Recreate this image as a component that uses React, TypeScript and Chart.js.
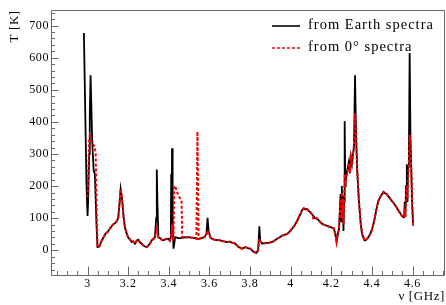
import React, { useEffect, useRef } from 'react';
import { Chart, registerables } from 'chart.js';

Chart.register(...registerables);

// Frequency grid [GHz]
const freqGHz = [
  2.982, 2.995, 3.0, 3.003, 3.008, 3.011, 3.015, 3.023, 3.03, 3.036, 3.04, 3.044, 3.049, 3.058, 3.066, 3.078,
  3.089, 3.1, 3.11, 3.125, 3.14, 3.151, 3.158, 3.163, 3.17, 3.178, 3.184, 3.193, 3.2, 3.209, 3.217, 3.225,
  3.234, 3.242, 3.25, 3.258, 3.267, 3.275, 3.283, 3.291, 3.3, 3.308, 3.316, 3.325, 3.332, 3.338, 3.341, 3.344,
  3.349, 3.357, 3.365, 3.373, 3.385, 3.398, 3.405, 3.41, 3.412, 3.414, 3.416, 3.419, 3.423, 3.427, 3.431, 3.447,
  3.463, 3.466, 3.475, 3.489, 3.505, 3.52, 3.536, 3.541, 3.547, 3.56, 3.575, 3.585, 3.591, 3.596, 3.605, 3.612,
  3.625, 3.64, 3.653, 3.67, 3.686, 3.7, 3.711, 3.727, 3.744, 3.76, 3.777, 3.79, 3.801, 3.818, 3.831, 3.84,
  3.846, 3.85, 3.859, 3.87, 3.884, 3.896, 3.909, 3.92, 3.933, 3.945, 3.958, 3.97, 3.983, 3.995, 4.007, 4.02,
  4.032, 4.048, 4.056, 4.065, 4.073, 4.081, 4.09, 4.098, 4.105, 4.111, 4.12, 4.131, 4.143, 4.156, 4.167, 4.177,
  4.188, 4.197, 4.205, 4.213, 4.22, 4.226, 4.232, 4.238, 4.242, 4.246, 4.249, 4.252, 4.255, 4.257, 4.26, 4.263,
  4.266, 4.269, 4.271, 4.276, 4.282, 4.287, 4.292, 4.297, 4.302, 4.307, 4.312, 4.317, 4.322, 4.328, 4.336, 4.345,
  4.352, 4.358, 4.364, 4.369, 4.376, 4.383, 4.391, 4.399, 4.407, 4.415, 4.423, 4.432, 4.445, 4.457, 4.465, 4.473,
  4.485, 4.498, 4.51, 4.522, 4.535, 4.547, 4.553, 4.558, 4.562, 4.565, 4.568, 4.572, 4.575, 4.578, 4.582, 4.586,
  4.59, 4.594, 4.598, 4.603,
];

// T [K] from Earth spectra (black solid)
const earthT = [
  677, 200, 107, 154, 300, 420, 545, 340, 250, 237, 160, 80, 10, 12, 25, 40,
  52, 58, 68, 80, 87, 100, 150, 191, 160, 100, 72, 52, 40, 34, 26, 28,
  21, 30, 33, 25, 20, 15, 12, 10, 15, 22, 31, 36, 41, 100, 252, 150,
  40, 38, 33, 31, 35, 36, 30, 40, 238, 120, 318, 100, 5, 20, 41, 38,
  38, 40, 40, 41, 40, 39, 37, 36, 35, 38, 41, 50, 101, 60, 40, 36,
  33, 32, 31, 28, 26, 27, 24, 21, 10, 5, 10, 7, 5, -5, -8, 0,
  75, 30, 21, 22, 23, 24, 26, 30, 36, 40, 46, 48, 51, 58, 67, 78,
  92, 113, 125, 131, 128, 128, 122, 118, 112, 108, 100, 98, 90, 82, 79, 77,
  74, 72, 70, 68, 50, 26, 50, 67, 120, 175, 90, 200, 100, 170, 60, 150,
  403, 200, 216, 240, 260, 277, 240, 290, 270, 300, 320, 545, 360, 246, 154, 83,
  50, 41, 31, 31, 36, 41, 50, 62, 80, 103, 130, 154, 170, 182, 178, 175,
  165, 154, 145, 133, 120, 108, 104, 103, 150, 105, 200, 268, 150, 260, 293, 615,
  350, 250, 150, 77,
];

// T [K] from 0° spectra (red dashed)
const zeroT = [
  null, null, 165, 230, 340, 356, 345, 335, 328, 320, 300, 150, 10, 12, 25, 40,
  52, 58, 68, 80, 87, 100, 150, 191, 160, 100, 72, 52, 40, 34, 26, 28,
  21, 30, 33, 25, 20, 15, 12, 10, 15, 22, 31, 36, 41, 60, 77, 50,
  40, 38, 33, 31, 35, 36, 30, 40, 55, 60, 80, 40, 30, 200, 200, 170,
  155, 40, 40, 41, 40, 39, 36, 370, 36, 38, 41, 45, 62, 50, 40, 36,
  33, 32, 31, 28, 26, 27, 24, 21, 10, 5, 10, 7, 5, -5, -8, 0,
  36, 30, 21, 22, 23, 24, 26, 30, 36, 40, 46, 48, 51, 58, 67, 78,
  92, 113, 125, 131, 128, 128, 122, 118, 112, 100, 105, 98, 90, 82, 79, 77,
  74, 72, 70, 68, 50, 26, 50, 67, 110, 160, 100, 180, 110, 160, 80, 140,
  237, 200, 210, 230, 255, 270, 240, 285, 265, 300, 330, 426, 360, 246, 154, 83,
  50, 41, 31, 31, 36, 41, 50, 62, 80, 103, 130, 154, 170, 182, 178, 175,
  165, 154, 145, 133, 120, 108, 104, 103, 120, 105, 170, 200, 160, 220, 270, 360,
  330, 250, 150, 77,
];

const xTickValues = [3, 3.2, 3.4, 3.6, 3.8, 4, 4.2, 4.4, 4.6];
const yTickValues = [0, 100, 200, 300, 400, 500, 600, 700];
const seriesLabels = ['from Earth spectra', 'from 0\u00B0 spectra'];
const xTitle = '\u03BD [GHz]';
const yTitle = 'T [K]';

const SERIF = "'Liberation Serif', 'Times New Roman', serif";

const framePlugin = {
  id: 'rootFrame',
  beforeDraw(chart: any) {
    const ctx = chart.ctx;
    ctx.fillStyle = '#fff';
    ctx.fillRect(0, 0, chart.width, chart.height);
    (ctx as any).letterSpacing = '0.6px';
  },
  afterDraw(chart: any) {
    const { ctx, chartArea: a, scales } = chart;
    const xs = scales.x;
    const ys = scales.y;
    ctx.save();
    ctx.strokeStyle = '#6a6a6a';
    ctx.lineWidth = 1;
    const L = Math.round(a.left) - 0.5;
    const R = Math.round(a.right) - 0.5;
    const T = Math.round(a.top) + 0.5;
    const B = Math.round(a.bottom) - 0.5;
    ctx.beginPath();
    ctx.rect(L, T, R - L, B - T);
    ctx.stroke();
    ctx.beginPath();
    for (let v = -80; v <= 740; v += 20) {
      const p = Math.round(ys.getPixelForValue(v)) + 0.5;
      if (p < T || p > B) continue;
      const len = v % 100 === 0 ? 7 : 3.5;
      ctx.moveTo(L, p);
      ctx.lineTo(L + len, p);
    }
    for (let k = 57; k <= 95; k++) {
      const v = k * 0.05;
      const p = Math.round(xs.getPixelForValue(v)) + 0.5;
      if (p < L || p > R) continue;
      const len = k % 4 === 0 ? 9 : 4.5;
      ctx.moveTo(p, B);
      ctx.lineTo(p, B - len);
    }
    ctx.stroke();

    // legend
    const lx1 = 272, lx2 = 300, tx = 308;
    const rows = [26, 48];
    ctx.lineWidth = 1.6;
    ctx.strokeStyle = '#000';
    ctx.beginPath();
    ctx.moveTo(lx1, rows[0]);
    ctx.lineTo(lx2, rows[0]);
    ctx.stroke();
    ctx.strokeStyle = '#ff0000';
    ctx.setLineDash([3, 2]);
    ctx.beginPath();
    ctx.moveTo(lx1, rows[1]);
    ctx.lineTo(lx2, rows[1]);
    ctx.stroke();
    ctx.setLineDash([]);
    ctx.fillStyle = '#000';
    ctx.font = `14.5px ${SERIF}`;
    (ctx as any).letterSpacing = '1px';
    ctx.textBaseline = 'middle';
    ctx.textAlign = 'left';
    ctx.fillText(seriesLabels[0], tx, rows[0] - 1);
    ctx.fillText(seriesLabels[1], tx, rows[1] - 1);
    ctx.restore();
    (ctx as any).letterSpacing = '0px';
  },
};

export default function App() {
  const canvasRef = useRef<HTMLCanvasElement | null>(null);

  useEffect(() => {
    const canvas = canvasRef.current;
    if (!canvas) return;
    const earthData = freqGHz.map((f, i) => ({ x: f, y: earthT[i] }));
    const zeroData = freqGHz
      .map((f, i) => ({ x: f, y: zeroT[i] }))
      .filter((p) => p.y !== null);

    const chart = new Chart(canvas, {
      type: 'line',
      data: {
        datasets: [
          {
            label: seriesLabels[1],
            data: zeroData as any,
            borderColor: '#ff0000',
            borderWidth: 2,
            borderDash: [3, 2],
            pointRadius: 0,
            tension: 0,
            fill: false,
          },
          {
            label: seriesLabels[0],
            data: earthData,
            borderColor: '#000000',
            borderWidth: 1.8,
            pointRadius: 0,
            tension: 0,
            fill: false,
          },
        ],
      },
      options: {
        responsive: false,
        animation: false,
        events: [],
        layout: { padding: { top: 7, right: 1, left: 0, bottom: 0 } },
        plugins: {
          legend: { display: false },
          tooltip: { enabled: false },
        },
        scales: {
          x: {
            type: 'linear',
            min: 2.825,
            max: 4.76,
            grid: { display: false, drawTicks: false },
            border: { display: false },
            afterBuildTicks: (s: any) => {
              s.ticks = xTickValues.map((v) => ({ value: v }));
            },
            afterFit: (s: any) => {
              s.height = 29;
            },
            ticks: {
              autoSkip: false,
              maxRotation: 0,
              minRotation: 0,
              padding: 1,
              color: '#000',
              font: { family: SERIF, size: 12 },
              callback: (v: any) => String(Number(v)),
            },
            title: {
              display: true,
              text: xTitle,
              align: 'end',
              color: '#000',
              font: { family: SERIF, size: 13 },
              padding: { top: 0, bottom: 1 },
            },
          },
          y: {
            type: 'linear',
            min: -80,
            max: 748,
            grid: { display: false, drawTicks: false },
            border: { display: false },
            afterBuildTicks: (s: any) => {
              s.ticks = yTickValues.map((v) => ({ value: v }));
            },
            afterFit: (s: any) => {
              s.width = 52;
            },
            ticks: {
              padding: 3,
              color: '#000',
              font: { family: SERIF, size: 12 },
              callback: (v: any) => String(Number(v)),
            },
            title: {
              display: true,
              text: yTitle,
              align: 'end',
              color: '#000',
              font: { family: SERIF, size: 13 },
              padding: { top: 7, bottom: 0 },
            },
          },
        },
      },
      plugins: [framePlugin],
    });
    return () => chart.destroy();
  }, []);

  return (
    <div style={{ position: 'absolute', left: 0, top: 0, width: 446, height: 305, background: '#fff' }}>
      <canvas ref={canvasRef} width={446} height={305} style={{ display: 'block', width: 446, height: 305 }} />
    </div>
  );
}
